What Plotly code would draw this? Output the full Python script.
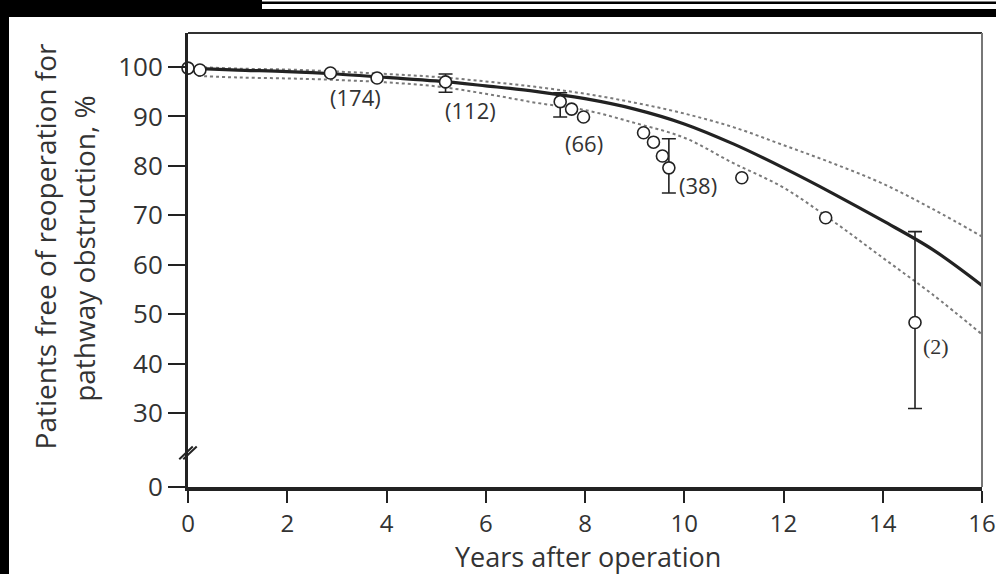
import plotly.graph_objects as go

# ---- data ----
curve_years = [0, 1, 2, 3, 4, 5, 6, 7, 8, 9, 10, 11, 12, 13, 14, 15, 16]
curve_fit = [99.8, 99.4, 99.1, 98.6, 97.9, 97.2, 96.2, 95.1, 93.6, 91.5, 88.5, 84.4, 79.6, 74.4, 68.9, 63.1, 55.8]

band_years = [0.2, 1, 2, 3, 4, 5, 6, 7, 8, 9, 10, 11, 12, 13, 14, 15, 16]
band_upper = [100.0, 99.7, 99.5, 99.1, 98.6, 98.0, 97.1, 96.0, 94.6, 92.8, 90.6, 87.8, 84.2, 80.5, 76.4, 71.3, 65.7]
band_lower = [98.2, 97.9, 97.7, 97.4, 96.9, 96.1, 94.6, 92.8, 91.3, 88.7, 85.7, 80.5, 75.6, 68.8, 61.4, 54.0, 45.9]

obs_years = [0.0, 0.24, 2.87, 3.81, 7.73, 7.97, 9.18, 9.38, 9.56, 11.16, 12.85]
obs_pct = [99.8, 99.4, 98.8, 97.8, 91.5, 89.9, 86.7, 84.8, 82.0, 77.6, 69.5]

ci_years = [5.19, 7.5, 9.69, 14.65]
ci_pct = [97.0, 93.0, 79.6, 48.3]
ci_upper = [98.6, 94.8, 85.5, 66.7]
ci_lower = [94.9, 89.9, 74.5, 30.9]

at_risk_labels = ["(174)", "(112)", "(66)", "(38)", "(2)"]
at_risk_x = [3.37, 5.69, 7.97, 10.27, 15.07]
at_risk_y = [94.0, 91.4, 84.6, 76.2, 43.4]

x_ticks = [0, 2, 4, 6, 8, 10, 12, 14, 16]
y_tick_vals = [15, 30, 40, 50, 60, 70, 80, 90, 100]
y_tick_text = ["0", "30", "40", "50", "60", "70", "80", "90", "100"]
Y_MIN, Y_MAX = 15, 106.9

INK = "#222222"
TXT = "#333333"
FONT = "Open Sans"

fig = go.Figure()

fig.add_trace(go.Scatter(x=band_years, y=band_upper, mode="lines",
                         line=dict(color="#7a7a7a", width=2, dash="dot", shape="spline"),
                         hoverinfo="skip", showlegend=False))
fig.add_trace(go.Scatter(x=band_years, y=band_lower, mode="lines",
                         line=dict(color="#7a7a7a", width=2, dash="dot", shape="spline"),
                         hoverinfo="skip", showlegend=False))
fig.add_trace(go.Scatter(x=curve_years, y=curve_fit, mode="lines",
                         line=dict(color=INK, width=3.2, shape="spline"),
                         showlegend=False))

err_plus = [u - p for u, p in zip(ci_upper, ci_pct)]
err_minus = [p - l for p, l in zip(ci_pct, ci_lower)]
fig.add_trace(go.Scatter(x=ci_years, y=ci_pct, mode="markers",
                         marker=dict(symbol="circle", size=12, color="white",
                                     line=dict(color=INK, width=1.6)),
                         error_y=dict(type="data", symmetric=False, array=err_plus,
                                      arrayminus=err_minus, color=INK,
                                      thickness=1.6, width=7),
                         showlegend=False))
fig.add_trace(go.Scatter(x=obs_years, y=obs_pct, mode="markers",
                         marker=dict(symbol="circle", size=12, color="white",
                                     line=dict(color=INK, width=1.6)),
                         showlegend=False, cliponaxis=False))

annotations = []
for t, x, y in zip(at_risk_labels, at_risk_x, at_risk_y):
    fam = "Liberation Serif" if t == "(2)" else FONT
    annotations.append(dict(x=x, y=y, xref="x", yref="y", text=t, showarrow=False,
                            xanchor="center", yanchor="middle",
                            font=dict(family=fam, size=22, color=TXT)))

annotations.append(dict(x=-0.180, y=0.53, xref="paper", yref="paper",
                        xanchor="center", yanchor="middle",
                        text="Patients free of reoperation for", textangle=-90,
                        showarrow=False, font=dict(family=FONT, size=28, color=TXT)))
annotations.append(dict(x=-0.132, y=0.525, xref="paper", yref="paper",
                        xanchor="center", yanchor="middle",
                        text="pathway obstruction, %", textangle=-90,
                        showarrow=False, font=dict(family=FONT, size=28, color=TXT)))
annotations.append(dict(x=0.504, y=-0.153, xref="paper", yref="paper",
                        xanchor="center", yanchor="middle",
                        text="Years after operation", showarrow=False,
                        font=dict(family=FONT, size=27, color=TXT)))


def py(px_y):
    return (487 - px_y) / 454


def pxx(px_x):
    return (px_x - 188) / 794


shapes = [
    # top and right frame lines
    dict(type="line", xref="paper", yref="paper", x0=0, x1=1, y0=1, y1=1,
         line=dict(color="#333333", width=2)),
    dict(type="line", xref="paper", yref="paper", x0=1, x1=1, y0=0, y1=1,
         line=dict(color="#777777", width=2)),
    # axis break mark
    dict(type="line", xref="paper", yref="y", x0=-0.011, x1=0.006, y0=20.6, y1=23.2,
         line=dict(color=INK, width=2)),
    dict(type="line", xref="paper", yref="y", x0=-0.006, x1=0.011, y0=20.6, y1=23.2,
         line=dict(color=INK, width=2)),
    # scan borders
    dict(type="rect", xref="paper", yref="paper", x0=pxx(-2), x1=pxx(9),
         y0=py(576), y1=py(-2), fillcolor="black", line=dict(width=0), layer="above"),
    dict(type="rect", xref="paper", yref="paper", x0=pxx(-2), x1=pxx(262),
         y0=py(17), y1=py(-2), fillcolor="black", line=dict(width=0), layer="above"),
    dict(type="rect", xref="paper", yref="paper", x0=pxx(262), x1=pxx(998),
         y0=py(17), y1=py(9), fillcolor="black", line=dict(width=0), layer="above"),
    dict(type="rect", xref="paper", yref="paper", x0=pxx(262), x1=pxx(998),
         y0=py(4), y1=py(1.5), fillcolor="black", line=dict(width=0), layer="above"),
]

fig.update_layout(
    width=996, height=574,
    margin=dict(l=188, r=14, t=33, b=87, autoexpand=False),
    paper_bgcolor="white", plot_bgcolor="white",
    font=dict(family=FONT, color=TXT),
    annotations=annotations, shapes=shapes,
    showlegend=False,
)
fig.update_xaxes(range=[0, 16], tickvals=x_ticks, ticks="outside", ticklen=12,
                 tickwidth=2, tickcolor=INK, showline=True, linewidth=4, linecolor=INK,
                 showgrid=False, zeroline=False, ticklabeloverflow="allow", automargin=False,
                 tickfont=dict(family=FONT, size=24, color=TXT))
fig.update_yaxes(range=[Y_MIN, Y_MAX], tickvals=y_tick_vals, ticktext=y_tick_text,
                 ticks="outside", ticklen=17, tickwidth=2, tickcolor=INK, automargin=False,
                 showline=True, linewidth=3, linecolor=INK, showgrid=False, zeroline=False,
                 tickfont=dict(family=FONT, size=26, color=TXT))

fig.write_html("out.html", config={"displayModeBar": False},
               post_script="document.body.style.margin='0';document.body.style.overflow='hidden';")
